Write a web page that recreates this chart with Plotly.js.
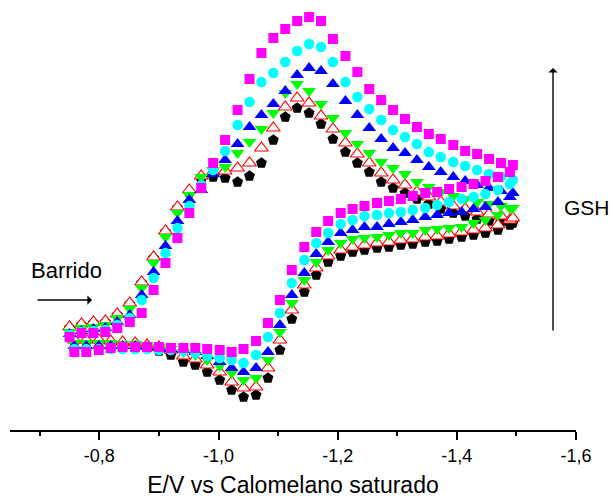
<!DOCTYPE html>
<html>
<head>
<meta charset="utf-8">
<script src="https://cdn.plot.ly/plotly-3.0.1.min.js"></script>
<style>html,body{margin:0;padding:0;background:#fff;}#chart{width:613px;height:498px;}</style>
</head>
<body>
<div id="chart"></div>
<script>
// Potential (V vs SCE) – forward (lower) branch and return (upper) branch
const potFwd = [-0.758, -0.778, -0.799, -0.819, -0.839, -0.860, -0.880, -0.900, -0.920, -0.941, -0.961, -0.981, -1.002, -1.022, -1.042, -1.063, -1.083, -1.103, -1.123, -1.144, -1.164, -1.184, -1.205, -1.225, -1.245, -1.266, -1.286, -1.306, -1.326, -1.347, -1.367, -1.387, -1.408, -1.428, -1.448, -1.469, -1.489];
const potRev = [-0.750, -0.770, -0.790, -0.810, -0.830, -0.851, -0.871, -0.891, -0.911, -0.931, -0.951, -0.971, -0.991, -1.011, -1.032, -1.052, -1.072, -1.092, -1.112, -1.132, -1.152, -1.172, -1.192, -1.213, -1.233, -1.253, -1.273, -1.293, -1.313, -1.333, -1.353, -1.373, -1.394, -1.414, -1.434, -1.454, -1.474, -1.494];

// Current (arbitrary units) for increasing GSH concentrations
const s1Fwd = [0.8, 0.8, 0.8, 0.7, 0.5, 0.4, 0.2, -0.1, -0.5, -1.2, -1.5, -2.2, -3.0, -4.0, -4.7, -4.5, -2.8, 0.0, 3.1, 5.8, 7.5, 8.8, 9.4, 9.8, 10.0, 10.2, 10.3, 10.5, 10.6, 10.8, 10.9, 11.1, 11.3, 11.5, 11.7, 12.0, 12.5];
const s1Rev = [2.2, 2.5, 2.7, 2.8, 3.5, 4.6, 6.7, 9.2, 11.8, 14.2, 15.7, 17.0, 17.3, 17.2, 16.8, 17.4, 18.7, 21.0, 23.3, 24.2, 23.7, 22.6, 21.1, 19.8, 18.7, 17.8, 16.8, 16.2, 15.7, 15.1, 14.6, 14.1, 13.7, 13.4, 13.1, 12.9, 12.8, 12.7];

const s2Fwd = [1.0, 1.0, 1.0, 0.9, 0.8, 0.7, 0.5, 0.3, 0.0, -0.6, -0.9, -1.5, -2.2, -3.2, -3.8, -3.7, -1.8, 1.0, 4.0, 6.5, 8.2, 9.4, 10.0, 10.3, 10.5, 10.7, 10.8, 11.0, 11.1, 11.3, 11.4, 11.6, 11.8, 12.0, 12.2, 12.5, 13.0];
const s2Rev = [2.3, 2.6, 2.8, 2.9, 3.6, 4.7, 6.8, 9.3, 11.9, 14.3, 16.0, 17.4, 17.8, 17.9, 18.2, 18.7, 20.2, 22.2, 24.3, 25.2, 24.7, 23.4, 22.1, 20.7, 19.6, 18.7, 17.7, 17.0, 16.5, 15.8, 15.3, 14.8, 14.4, 14.1, 13.8, 13.6, 13.4, 13.2];

const s3Fwd = [0.7, 0.7, 0.7, 0.7, 0.6, 0.6, 0.5, 0.3, 0.1, -0.2, -0.5, -1.0, -1.6, -2.3, -3.0, -2.8, -1.0, 1.8, 4.7, 7.0, 8.8, 10.0, 10.7, 11.1, 11.2, 11.3, 11.5, 11.7, 11.7, 12.0, 12.1, 12.2, 12.3, 12.7, 13.0, 13.5, 14.2];
const s3Rev = [1.8, 2.2, 2.3, 2.5, 3.2, 4.1, 6.2, 8.7, 11.3, 13.7, 15.5, 17.3, 18.0, 18.3, 19.7, 20.8, 22.1, 23.7, 25.7, 26.6, 25.9, 24.6, 23.2, 21.7, 20.6, 19.7, 18.8, 18.2, 17.6, 16.8, 16.3, 15.8, 15.4, 15.1, 14.8, 14.6, 14.4, 14.2];

const s4Fwd = [0.4, 0.4, 0.4, 0.4, 0.4, 0.4, 0.3, 0.2, 0.1, 0.0, -0.2, -0.6, -1.2, -1.8, -2.2, -1.8, -0.2, 2.5, 5.5, 7.7, 9.6, 10.8, 11.7, 12.0, 12.3, 12.3, 12.6, 12.8, 13.0, 13.3, 13.5, 13.7, 13.8, 14.1, 14.3, 14.8, 15.3];
const s4Rev = [1.6, 1.9, 2.1, 2.2, 2.8, 3.5, 5.5, 7.8, 10.4, 12.9, 15.0, 16.0, 17.6, 19.0, 20.6, 22.3, 23.5, 24.6, 25.9, 27.5, 28.2, 27.9, 26.6, 24.9, 23.5, 22.2, 21.1, 20.2, 19.7, 19.0, 18.3, 17.8, 17.3, 16.9, 16.5, 16.2, 15.9, 15.7];

const s5Fwd = [0.1, 0.1, 0.1, 0.1, 0.1, 0.1, 0.1, 0.0, 0.0, -0.1, -0.3, -0.6, -0.8, -1.0, -1.3, -0.5, 1.3, 3.7, 6.7, 9.0, 10.7, 11.7, 12.6, 13.0, 13.4, 13.5, 13.7, 13.8, 14.0, 14.2, 14.5, 14.8, 15.1, 15.3, 15.6, 16.0, 16.6];
const s5Rev = [1.5, 1.8, 1.9, 2.0, 2.5, 3.2, 5.0, 7.2, 9.7, 12.2, 14.4, 16.5, 18.0, 19.9, 22.5, 24.8, 26.8, 27.7, 28.8, 29.9, 30.6, 30.3, 28.8, 26.8, 25.3, 24.1, 23.0, 22.0, 21.3, 20.6, 19.8, 19.3, 18.8, 18.4, 18.0, 17.6, 17.3, 17.0];

const s6Fwd = [-0.2, -0.2, 0.0, 0.2, 0.3, 0.3, 0.3, 0.3, 0.2, 0.2, 0.2, 0.1, 0.0, -0.2, 0.1, 0.9, 2.7, 5.0, 8.0, 10.3, 11.8, 12.9, 13.7, 14.1, 14.4, 14.7, 14.9, 15.1, 15.4, 15.7, 15.8, 16.1, 16.3, 16.6, 16.9, 17.3, 17.8];
const s6Rev = [1.3, 1.7, 1.7, 1.8, 2.2, 2.8, 3.7, 6.0, 8.7, 11.2, 13.7, 16.2, 18.7, 21.0, 24.0, 27.1, 29.7, 31.2, 32.1, 32.9, 33.3, 32.9, 31.1, 29.4, 27.8, 26.1, 25.0, 24.0, 23.1, 22.3, 21.6, 21.1, 20.5, 19.9, 19.6, 19.1, 18.7, 18.5];

const tickVals = [-0.8, -1.0, -1.2, -1.4, -1.6];
const tickLabels = ['-0,8', '-1,0', '-1,2', '-1,4', '-1,6'];

const FONT = 'Liberation Sans, Arial, Helvetica, sans-serif';

const styles = [
  {f: s1Fwd, r: s1Rev, marker: {symbol: 'pentagon', size: 11.5, color: '#000000', line: {width: 0}}},
  {f: s2Fwd, r: s2Rev, marker: {symbol: 'triangle-up', size: 12, color: '#ffffff', line: {width: 1.2, color: '#ff0000'}}},
  {f: s3Fwd, r: s3Rev, marker: {symbol: 'triangle-down', size: 12, color: '#00ff00', line: {width: 0}}},
  {f: s4Fwd, r: s4Rev, marker: {symbol: 'triangle-up', size: 12, color: '#0000ff', line: {width: 0}}},
  {f: s5Fwd, r: s5Rev, marker: {symbol: 'circle', size: 10.5, color: '#00ffff', line: {width: 0}}},
  {f: s6Fwd, r: s6Rev, marker: {symbol: 'square', size: 10, color: '#ff00ff', line: {width: 0}}}
];

const traces = styles.map(s => ({
  type: 'scatter', mode: 'markers',
  x: potFwd.concat(potRev),
  y: s.f.concat(s.r),
  marker: s.marker,
  showlegend: false,
  hoverinfo: 'x+y'
}));

const layout = {
  width: 613, height: 498,
  margin: {l: 10, r: 37, t: 10, b: 68, pad: 0},
  paper_bgcolor: '#ffffff', plot_bgcolor: '#ffffff',
  font: {family: FONT, color: '#000000'},
  showlegend: false,
  xaxis: {
    range: [-0.65, -1.6],
    tickmode: 'array', tickvals: tickVals, ticktext: tickLabels,
    ticks: 'outside', ticklen: 8, tickwidth: 2, tickcolor: '#000',
    minor: {tickmode: 'linear', tick0: -0.7, dtick: 0.1, ticks: 'outside', ticklen: 4, tickwidth: 2, tickcolor: '#000', showgrid: false},
    showline: true, linecolor: '#000', linewidth: 2,
    showgrid: false, zeroline: false,
    tickfont: {family: FONT, size: 18, color: '#000'},
    title: {text: 'E/V vs Calomelano saturado', font: {family: FONT, size: 23, color: '#000'}, standoff: 13}
  },
  yaxis: {
    range: [-8, 34], visible: false, showgrid: false, zeroline: false
  },
  annotations: [
    {xref: 'paper', yref: 'paper', x: 0.1007, y: 0.379, xanchor: 'center', yanchor: 'middle',
     text: 'Barrido', showarrow: false, font: {family: FONT, size: 22, color: '#000'}},
    {xref: 'paper', yref: 'paper', x: 0.1449, y: 0.3095, text: '', showarrow: true,
     ax: -56, ay: 0, arrowhead: 1, arrowsize: 1.1, arrowwidth: 1.4, arrowcolor: '#000', standoff: 0},
    {xref: 'paper', yref: 'paper', x: 0.9594, y: 0.8619, text: '', showarrow: true,
     ax: 0, ay: 264, arrowhead: 1, arrowsize: 1.1, arrowwidth: 1.4, arrowcolor: '#000', standoff: 0},
    {xref: 'paper', yref: 'paper', x: 0.9753, y: 0.5286, xanchor: 'left', yanchor: 'middle',
     text: 'GSH', showarrow: false, font: {family: FONT, size: 21, color: '#000'}}
  ]
};

Plotly.newPlot('chart', traces, layout, {displayModeBar: false, staticPlot: true});
</script>
</body>
</html>
